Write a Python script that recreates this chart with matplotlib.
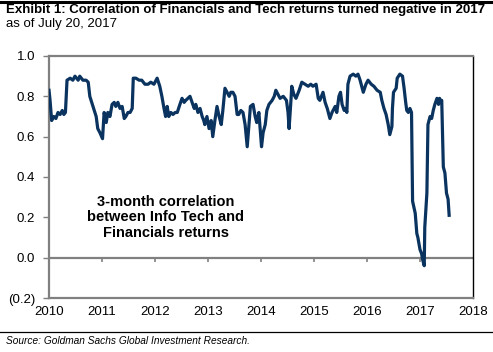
import matplotlib
matplotlib.use("Agg")
import matplotlib.pyplot as plt
from matplotlib.lines import Line2D
from matplotlib.ticker import FuncFormatter

plt.rcParams['font.family'] = ['Liberation Sans', 'DejaVu Sans']

title = "Exhibit 1: Correlation of Financials and Tech returns turned negative in 2017"
subtitle = "as of July 20, 2017"
source = "Source: Goldman Sachs Global Investment Research."
annotation = "3-month correlation\nbetween Info Tech and\nFinancials returns"

years = [
    2010.00, 2010.02, 2010.05, 2010.09, 2010.13, 2010.17, 2010.21, 2010.25, 2010.28, 2010.31,
    2010.34, 2010.40, 2010.45, 2010.49, 2010.55, 2010.58, 2010.64, 2010.70, 2010.74, 2010.77,
    2010.83, 2010.89, 2010.92, 2010.96, 2011.01, 2011.04, 2011.08, 2011.11, 2011.15, 2011.19,
    2011.23, 2011.26, 2011.30, 2011.34, 2011.38, 2011.42, 2011.45, 2011.49, 2011.53, 2011.57,
    2011.59, 2011.64, 2011.70, 2011.75, 2011.81, 2011.87, 2011.92, 2011.98, 2012.04, 2012.09,
    2012.13, 2012.17, 2012.20, 2012.23, 2012.26, 2012.30, 2012.34, 2012.38, 2012.42, 2012.47,
    2012.51, 2012.55, 2012.58, 2012.62, 2012.66, 2012.70, 2012.74, 2012.77, 2012.81, 2012.85,
    2012.89, 2012.92, 2012.94, 2012.98, 2013.02, 2013.06, 2013.09, 2013.13, 2013.17, 2013.21,
    2013.25, 2013.28, 2013.32, 2013.36, 2013.40, 2013.43, 2013.47, 2013.51, 2013.55, 2013.58,
    2013.62, 2013.66, 2013.70, 2013.74, 2013.77, 2013.80, 2013.85, 2013.89, 2013.92, 2013.96,
    2014.01, 2014.04, 2014.08, 2014.11, 2014.15, 2014.21, 2014.25, 2014.28, 2014.32, 2014.36,
    2014.42, 2014.48, 2014.51, 2014.53, 2014.57, 2014.58, 2014.62, 2014.66, 2014.72, 2014.77,
    2014.83, 2014.89, 2014.94, 2014.98, 2015.04, 2015.08, 2015.11, 2015.17, 2015.21, 2015.25,
    2015.30, 2015.34, 2015.40, 2015.43, 2015.47, 2015.50, 2015.53, 2015.57, 2015.60, 2015.62,
    2015.64, 2015.68, 2015.74, 2015.79, 2015.83, 2015.87, 2015.91, 2015.93, 2015.98, 2016.02,
    2016.08, 2016.13, 2016.19, 2016.25, 2016.28, 2016.32, 2016.36, 2016.40, 2016.43, 2016.47,
    2016.48, 2016.50, 2016.55, 2016.57, 2016.62, 2016.67, 2016.70, 2016.73, 2016.75, 2016.78,
    2016.81, 2016.84, 2016.86, 2016.91, 2016.94, 2016.96, 2017.00, 2017.03, 2017.05, 2017.08,
    2017.09, 2017.13, 2017.15, 2017.19, 2017.22, 2017.25, 2017.28, 2017.32, 2017.35, 2017.37,
    2017.39, 2017.41, 2017.44, 2017.47, 2017.50, 2017.53, 2017.55,
]

correlation = [
    0.83, 0.78, 0.68, 0.70, 0.69, 0.72, 0.71, 0.73, 0.71, 0.72,
    0.88, 0.89, 0.88, 0.90, 0.88, 0.90, 0.88, 0.88, 0.87, 0.80,
    0.75, 0.70, 0.64, 0.62, 0.59, 0.72, 0.67, 0.72, 0.70, 0.76,
    0.77, 0.75, 0.77, 0.74, 0.75, 0.69, 0.70, 0.72, 0.72, 0.74,
    0.89, 0.89, 0.88, 0.88, 0.86, 0.86, 0.87, 0.86, 0.89, 0.85,
    0.80, 0.74, 0.70, 0.75, 0.70, 0.72, 0.71, 0.72, 0.72, 0.76,
    0.79, 0.77, 0.78, 0.79, 0.80, 0.77, 0.74, 0.76, 0.72, 0.74,
    0.70, 0.68, 0.66, 0.70, 0.64, 0.68, 0.60, 0.68, 0.75, 0.70,
    0.66, 0.73, 0.84, 0.82, 0.80, 0.82, 0.82, 0.80, 0.71, 0.71,
    0.73, 0.72, 0.66, 0.55, 0.65, 0.75, 0.76, 0.70, 0.67, 0.72,
    0.55, 0.62, 0.66, 0.73, 0.76, 0.78, 0.80, 0.83, 0.81, 0.79,
    0.80, 0.78, 0.72, 0.64, 0.80, 0.85, 0.81, 0.79, 0.83, 0.87,
    0.86, 0.85, 0.86, 0.85, 0.86, 0.79, 0.78, 0.82, 0.77, 0.74,
    0.69, 0.72, 0.75, 0.72, 0.80, 0.82, 0.76, 0.73, 0.74, 0.72,
    0.86, 0.90, 0.91, 0.90, 0.91, 0.88, 0.84, 0.82, 0.86, 0.88,
    0.86, 0.85, 0.83, 0.82, 0.78, 0.74, 0.71, 0.66, 0.61, 0.65,
    0.74, 0.82, 0.84, 0.89, 0.91, 0.90, 0.84, 0.77, 0.73, 0.72,
    0.74, 0.72, 0.28, 0.22, 0.12, 0.10, 0.04, 0.02, -0.01, -0.04,
    0.15, 0.32, 0.66, 0.70, 0.69, 0.73, 0.76, 0.79, 0.76, 0.79,
    0.77, 0.78, 0.45, 0.42, 0.32, 0.29, 0.21,
]

x_ticks = [2010, 2011, 2012, 2013, 2014, 2015, 2016, 2017, 2018]
y_ticks = [-0.2, 0.0, 0.2, 0.4, 0.6, 0.8, 1.0]

W, H = 493, 352
fig = plt.figure(figsize=(W / 100, H / 100), dpi=100)
ax = fig.add_axes([49 / W, 1 - 298 / H, (473 - 49) / W, (298 - 56) / H])

ax.plot(years, correlation, color="#0A345F", lw=2.3, solid_joinstyle="round", zorder=3)
ax.axhline(0, color="#808080", lw=1.6, zorder=2)

ax.set_xlim(2010, 2018)
ax.set_ylim(-0.2, 1.0)
ax.set_xticks(x_ticks)
ax.set_yticks(y_ticks)
ax.yaxis.set_major_formatter(FuncFormatter(lambda v, p: f"({abs(v):.1f})" if v < -1e-9 else f"{abs(v):.1f}"))
ax.tick_params(axis="y", direction="out", length=4, width=1, color="#808080", labelsize=9.5, pad=6)
ax.tick_params(axis="x", length=0, labelsize=9.5, pad=6)

for s in ["left", "top", "bottom"]:
    ax.spines[s].set_color("#808080")
    ax.spines[s].set_linewidth(1.6)
ax.spines["right"].set_color("black")
ax.spines["right"].set_linewidth(1.0)

# small tick marks on the zero line
sec = ax.secondary_xaxis(1 / 6)
sec.set_xticks(x_ticks[1:-1])
sec.tick_params(axis="x", direction="out", length=3, width=1.2, color="#808080", labelbottom=False, labeltop=False)
sec.spines["bottom"].set_visible(False)
sec.spines["top"].set_visible(False)

ax.text(2012.2, 0.2, annotation, ha="center", va="center", fontsize=10.5,
        fontweight="bold", linespacing=1.15)

fig.text(6 / W, 1 - 10 / H, title, ha="left", va="center", fontsize=9.5, fontweight="bold")
fig.text(6 / W, 1 - 24 / H, subtitle, ha="left", va="center", fontsize=9.5)
fig.add_artist(Line2D([0, 1], [1 - 1.5 / H, 1 - 1.5 / H], color="black", lw=2.2))
fig.add_artist(Line2D([0, 492 / W], [1 - 332 / H, 1 - 332 / H], color="black", lw=0.9))
fig.text(6 / W, 1 - 341 / H, source, ha="left", va="center", fontsize=7.3, style="italic")

fig.savefig("out.png", dpi=100)
